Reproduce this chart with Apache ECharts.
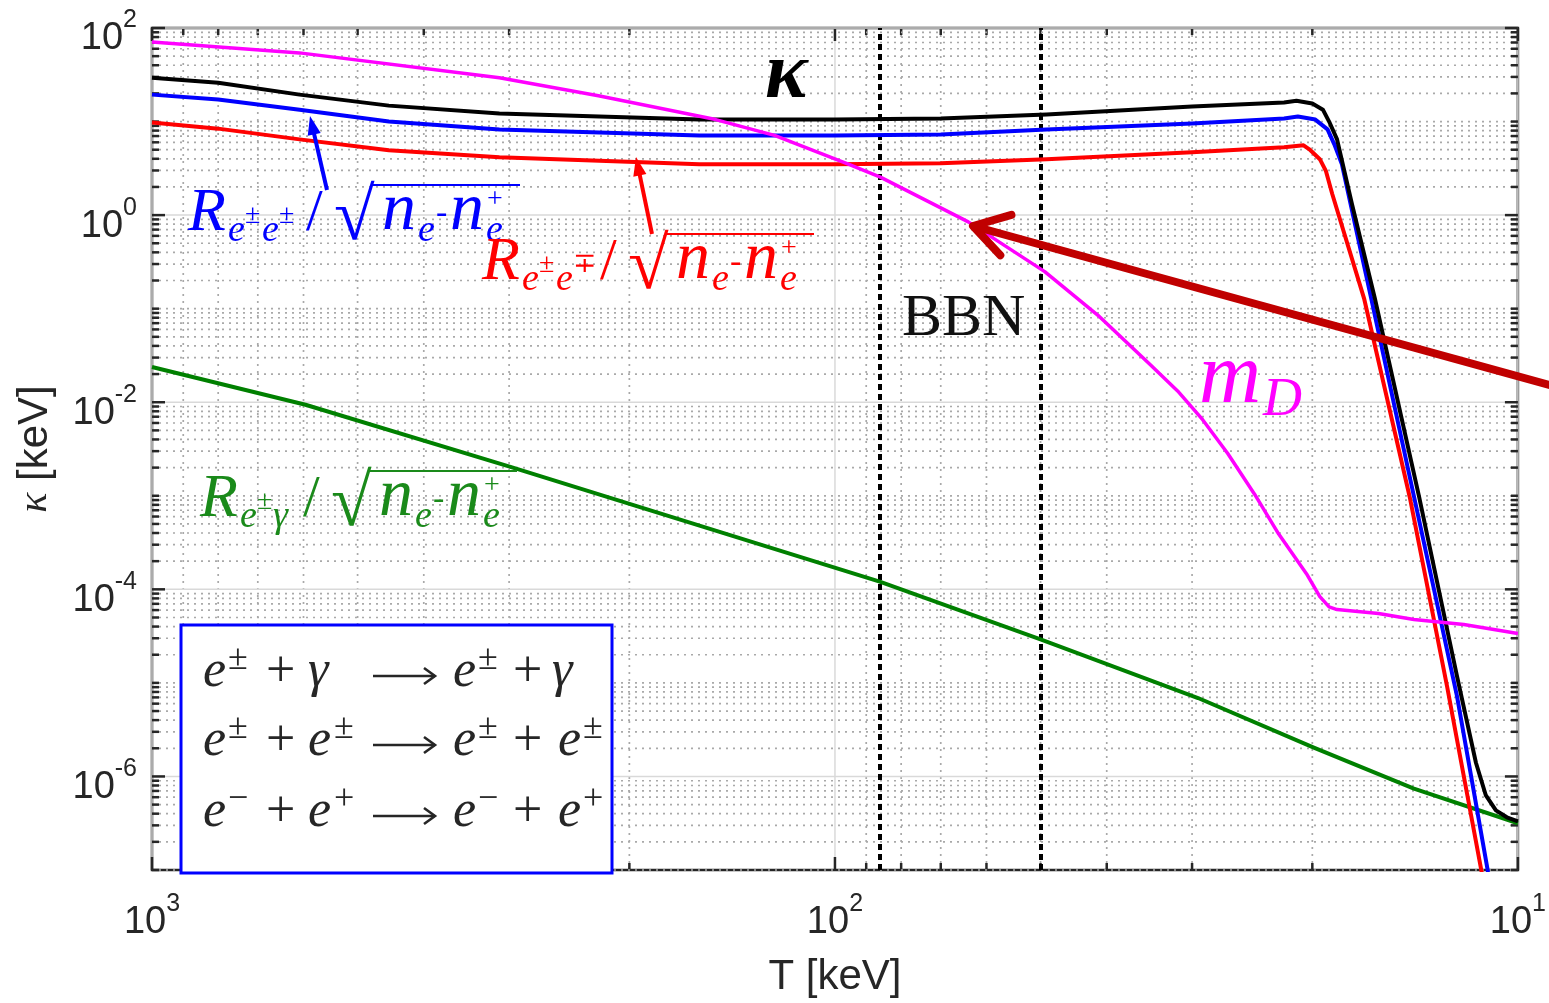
<!DOCTYPE html>
<html>
<head>
<meta charset="utf-8">
<script src="https://cdn.jsdelivr.net/npm/echarts@6/dist/echarts.min.js"></script>
<style>
  html, body { margin: 0; padding: 0; background: #fff; }
  #chart { width: 1549px; height: 1003px; }
</style>
</head>
<body>
<div id="chart"></div>
<script>
// ---- data (T in keV, values in keV) ----
const T_kappa = [1000, 800, 608, 450, 310, 158, 100, 70, 49, 30, 22, 21.1, 20.0, 19.3, 18.9, 18.4, 17.5, 16.2, 13.95, 12.28, 11.52, 11.14, 10.77, 10.38, 10];
const kappa   = [29.4, 26.0, 19.4, 14.8, 12.2, 10.5, 10.5, 10.8, 11.9, 14.5, 16.0, 16.7, 15.6, 13.4, 10.0, 6.45, 1.32, 0.129, 9.66e-4, 1.18e-5, 1.40e-6, 6.26e-7, 4.34e-7, 3.66e-7, 3.31e-7];

const T_same = [1000, 800, 608, 450, 310, 158, 100, 70, 49, 30, 22, 21, 19.8, 19.0, 18.57, 18.1, 16.4, 14.19, 12.28, 11.06, 10.7];
const R_same = [19.4, 17.2, 13.4, 10.0, 8.24, 7.11, 7.11, 7.29, 8.24, 9.55, 10.8, 11.3, 10.5, 8.24, 5.71, 3.50, 0.129, 9.66e-4, 7.23e-6, 9.5e-8, 3.3e-8];

const T_opp = [1000, 800, 608, 450, 310, 158, 100, 70, 49, 30, 22, 20.6, 20.2, 19.5, 19.1, 18.7, 16.8, 14.4, 12.7, 11.3, 11.0];
const R_opp = [9.79, 8.4, 6.45, 4.93, 4.16, 3.50, 3.50, 3.59, 3.96, 4.70, 5.31, 5.57, 5.05, 3.96, 2.95, 1.68, 0.129, 9.66e-4, 9.24e-6, 9.5e-8, 3.3e-8];

const T_mD = [1000, 608, 310, 222, 149.5, 122.6, 95.6, 85.8, 63.8, 49.3, 41.2, 34.5, 31.5, 28.95, 26.6, 24.3, 22.4, 20.4, 19.5, 18.9, 18.4, 16.0, 14.2, 12.0, 10];
const mD   = [71.0, 54.2, 29.4, 18.9, 10.5, 7.11, 3.50, 2.55, 0.847, 0.249, 0.0849, 0.0250, 0.0132, 6.5e-3, 2.83e-3, 1.04e-3, 3.9e-4, 1.47e-4, 8.35e-5, 6.5e-5, 6.08e-5, 5.51e-5, 4.76e-5, 4.21e-5, 3.38e-5];

const T_gam = [1000, 596, 297, 86, 50, 29.4, 19.9, 14.2, 10];
const R_gam = [0.0238, 9.4e-3, 2.01e-3, 1.21e-4, 2.92e-5, 6.89e-6, 2.03e-6, 7.4e-7, 3.16e-7];

const bbnT = [86, 50];

// ---- axes / ticks ----
const xMajor = [10, 100, 1000];
const yMajorExp = [-6, -4, -2, 0, 2];
const yExpRange = [-7, 2];
const minorMult = [2, 3, 4, 5, 6, 7, 8, 9];

const SERIF = '"Liberation Serif", "DejaVu Serif", serif';
const SANS = '"Liberation Sans", Arial, sans-serif';
const INK = '#262626';

function zip(xs, ys) { return xs.map((x, i) => [x, ys[i]]); }

// grid lines + inward ticks: [x, y, kind] kind 0 x-minor, 1 x-major, 2 y-minor, 3 y-major
const gridItems = [];
xMajor.forEach(v => gridItems.push([v, 1, 1]));
[10, 100].forEach(d => minorMult.forEach(m => gridItems.push([m * d, 1, 0])));
for (let e = yExpRange[0]; e <= yExpRange[1]; e++) {
  const d = Math.pow(10, e);
  gridItems.push([100, d, yMajorExp.indexOf(e) >= 0 ? 3 : 2]);
  if (e < yExpRange[1]) minorMult.forEach(m => gridItems.push([100, m * d, 2]));
}

function renderGrid(params, api) {
  const cs = params.coordSys;
  const kind = api.value(2);
  const top = cs.y, bottom = cs.y + cs.height, left = cs.x, right = cs.x + cs.width;
  const major = kind === 1 || kind === 3;
  const gStyle = major ? { stroke: '#d9d9d9', lineWidth: 1.5 }
                       : { stroke: '#a9a9a9', lineWidth: 1.7, lineDash: [2, 5] };
  const tl = major ? 13 : 7;
  const tStyle = { stroke: INK, lineWidth: 2.5 };
  if (kind < 2) {
    const px = api.coord([api.value(0), 1])[0];
    return { type: 'group', children: [
      { type: 'line', shape: { x1: px, y1: top, x2: px, y2: bottom }, style: gStyle },
      { type: 'line', shape: { x1: px, y1: bottom, x2: px, y2: bottom - tl }, style: tStyle },
      { type: 'line', shape: { x1: px, y1: top, x2: px, y2: top + tl }, style: tStyle }
    ]};
  }
  const py = api.coord([100, api.value(1)])[1];
  return { type: 'group', children: [
    { type: 'line', shape: { x1: left, y1: py, x2: right, y2: py }, style: gStyle },
    { type: 'line', shape: { x1: left, y1: py, x2: left + tl, y2: py }, style: tStyle },
    { type: 'line', shape: { x1: right, y1: py, x2: right - tl, y2: py }, style: tStyle }
  ]};
}

// ---- math-ish labels: pieces at offsets from an origin and a baseline ----
const ZT = 100;
function mathText(x0, base, color, parts) {
  const kids = [];
  parts.forEach(p => {
    if (p.ov) {
      kids.push({ type: 'line', z: ZT, shape: { x1: x0 + p.x, y1: base + p.dy, x2: x0 + p.x2, y2: base + p.dy },
        style: { stroke: color, lineWidth: 2 } });
      return;
    }
    if (p.arrow) {
      const y = base + p.dy, xa = x0 + p.x, xb = xa + p.arrow;
      kids.push({ type: 'line', z: ZT, shape: { x1: xa, y1: y, x2: xb, y2: y }, style: { stroke: color, lineWidth: 2.6 } });
      kids.push({ type: 'polyline', z: ZT, shape: { points: [[xb - 11, y - 8], [xb, y], [xb - 11, y + 8]] },
        style: { stroke: color, lineWidth: 2.6, fill: null } });
      return;
    }
    if (!p.t) return;
    const font = (p.i ? 'italic ' : '') + (p.b ? 'bold ' : '') + p.s + 'px ' + (p.f || SERIF);
    kids.push({ type: 'text', z: ZT, x: x0 + p.x, y: base + (p.dy || 0) - 0.3 * p.s,
      style: { text: p.t, font: font, fill: color, align: 'left', verticalAlign: 'middle' } });
  });
  return { type: 'group', children: kids };
}

function rLabel(x0, base, color, sub, k) {
  return mathText(x0, base, color, [{ t: 'R', i: true, s: 62, x: 0 }].concat(sub).concat([
    { t: '/', s: 60, x: 118 + k },
    { t: '\u221A', s: 74, dy: 10, x: 146 + k },
    { ov: true, x: 183 + k, x2: 332 + k, dy: -47 },
    { t: 'n', i: true, s: 68, x: 194 + k },
    { t: 'e', i: true, s: 38, dy: 10, x: 230 + k },
    { t: '-', s: 34, dy: -8, x: 248 + k },
    { t: 'n', i: true, s: 68, x: 262 + k },
    { t: 'e', i: true, s: 38, dy: 10, x: 298 + k },
    { t: '+', s: 28, dy: -24, x: 299 + k }
  ]));
}
const subE = (a, b) => [
  { t: 'e', i: true, s: 38, dy: 10, x: 40 }, { t: a, s: 28, dy: -8, x: 57 },
  { t: 'e', i: true, s: 38, dy: 10, x: 74 }, { t: b, s: 28, dy: -8, x: 91 }
];

// reaction line: e^a + (gamma | e^b) --> e^a + (gamma | e^b)
function reaction(base, a, b) {
  const X = [0, 25, 63, 105, 131, 170, 250, 275, 310, 355, 380];
  const p = (t, i, x, dy, s) => ({ t, i, x, dy: dy || 0, s: s || 52 });
  const g = b === '\u03B3';
  return mathText(203, base, INK, [
    p('e', true, X[0]), p(a, false, X[1], -18, 36), p('+', false, X[2]),
    g ? p('\u03B3', true, X[3]) : p('e', true, X[3]),
    g ? p('', false, 0) : p(b, false, X[4], -18, 36),
    { arrow: 62, x: X[5], dy: -12 },
    p('e', true, X[6]), p(a, false, X[7], -18, 36), p('+', false, X[8]),
    g ? p('\u03B3', true, X[9] - 6) : p('e', true, X[9]),
    g ? p('', false, 0) : p(b, false, X[10], -18, 36)
  ]);
}

function arrow(tail, tip, color, w, head, open) {
  const dx = tail[0] - tip[0], dy = tail[1] - tip[1];
  const L = Math.hypot(dx, dy), ux = dx / L, uy = dy / L;
  const a = open ? 0.55 : 0.34;
  const rot = (s) => [tip[0] + head * (ux * Math.cos(s * a) - uy * Math.sin(s * a)),
                      tip[1] + head * (ux * Math.sin(s * a) + uy * Math.cos(s * a))];
  const shaftStart = open ? tip : [tip[0] + ux * head * 0.8, tip[1] + uy * head * 0.8];
  const kids = [{ type: 'line', z: ZT, shape: { x1: tail[0], y1: tail[1], x2: shaftStart[0], y2: shaftStart[1] },
                  style: { stroke: color, lineWidth: w, lineCap: 'butt' } }];
  if (open) {
    kids.push({ type: 'polyline', z: ZT, shape: { points: [rot(1), tip, rot(-1)] },
                style: { stroke: color, lineWidth: w, fill: null, lineJoin: 'round', lineCap: 'round' } });
  } else {
    kids.push({ type: 'polygon', z: ZT, shape: { points: [rot(1), tip, rot(-1)] }, style: { fill: color } });
  }
  return { type: 'group', children: kids };
}

const lineSeries = (name, data, color, width) => ({
  name, type: 'line', data, showSymbol: false, symbol: 'none', smooth: false,
  lineStyle: { color, width, join: 'round' }, z: 5, silent: true
});

const supRich = {
  b: { fontSize: 38, fontFamily: SANS, color: INK, lineHeight: 50, verticalAlign: 'bottom', padding: [18, 0, 0, 0] },
  s: { fontSize: 25, fontFamily: SANS, color: INK, lineHeight: 26, verticalAlign: 'top' }
};

const chart = echarts.init(document.getElementById('chart'), null, { renderer: 'canvas' });

const option = {
  animation: false,
  backgroundColor: '#fff',
  grid: { left: 152, right: 28, top: 28, bottom: 128, show: true, borderColor: INK, borderWidth: 2.5, backgroundColor: '#fff', z: 0 },
  xAxis: {
    type: 'log', logBase: 10, min: 10, max: 1000, inverse: true,
    name: 'T [keV]', nameLocation: 'middle', nameGap: 86,
    nameTextStyle: { fontSize: 42, fontFamily: SANS, color: INK },
    axisLine: { show: false }, axisTick: { show: false }, splitLine: { show: false },
    axisLabel: {
      margin: 22,
      formatter: v => '{b|10}{s|' + Math.round(Math.log10(v)) + '}',
      rich: supRich
    }
  },
  yAxis: {
    type: 'log', logBase: 10, min: 1e-7, max: 100,
    name: '{k|\u03BA} [keV]', nameLocation: 'middle', nameGap: 96,
    nameTextStyle: { fontSize: 42, fontFamily: SANS, color: INK,
      rich: { k: { fontSize: 42, fontFamily: SERIF, fontStyle: 'italic', color: INK } } },
    axisLine: { show: false }, axisTick: { show: false }, splitLine: { show: false },
    axisLabel: {
      margin: 15,
      padding: [10, 0, 0, 0],
      formatter: v => {
        const e = Math.round(Math.log10(v));
        return e % 2 === 0 ? '{b|10}{s|' + e + '}' : '';
      },
      rich: supRich
    }
  },
  series: [
    { type: 'custom', data: gridItems, renderItem: renderGrid, encode: { x: 0, y: 1 }, z: 1, silent: true, clip: false },
    lineSeries('gamma', zip(T_gam, R_gam), '#008000', 4),
    lineSeries('opp', zip(T_opp, R_opp), '#ff0000', 4),
    lineSeries('same', zip(T_same, R_same), '#0000ff', 4),
    lineSeries('kappa', zip(T_kappa, kappa), '#000000', 4),
    lineSeries('mD', zip(T_mD, mD), '#ff00ff', 3.5),
    {
      type: 'line', data: [], z: 6, silent: true,
      markLine: {
        silent: true, symbol: ['none', 'none'], label: { show: false },
        lineStyle: { color: '#000', width: 4, type: [6, 4] },
        data: bbnT.map(t => ({ xAxis: t }))
      }
    }
  ],
  graphic: [
    mathText(765, 100, '#000', [{ t: '\u03BA', i: true, b: true, s: 80, x: 0 }]),
    mathText(902, 337, '#111', [{ t: 'BBN', s: 60, x: 0 }]),
    mathText(1199, 405, '#ff00ff', [{ t: 'm', i: true, s: 86, x: 0 }, { t: 'D', i: true, s: 54, dy: 12, x: 64 }]),
    rLabel(188, 232, '#0000ff', subE('\u00B1', '\u00B1'), 0),
    rLabel(482, 281, '#ff0000', subE('\u00B1', '\u2213'), 0),
    rLabel(200, 518, '#1a8a1a', [
      { t: 'e', i: true, s: 38, dy: 10, x: 40 }, { t: '\u00B1', s: 28, dy: -8, x: 57 },
      { t: '\u03B3', i: true, s: 38, dy: 10, x: 73 }], -15),
    arrow([327, 190], [310, 116], '#0000ff', 4, 20, false),
    arrow([652, 234], [636, 157], '#ff0000', 4, 20, false),
    arrow([1575, 392], [973, 226], '#c00000', 8, 40, true),
    { type: 'rect', z: 99, shape: { x: 181, y: 625, width: 431, height: 248 },
      style: { fill: '#fff', stroke: '#0000ff', lineWidth: 3 } },
    reaction(688, '\u00B1', '\u03B3'),
    reaction(757, '\u00B1', '\u00B1'),
    reaction(828, '\u2212', '+')
  ]
};

chart.setOption(option);
</script>
</body>
</html>
